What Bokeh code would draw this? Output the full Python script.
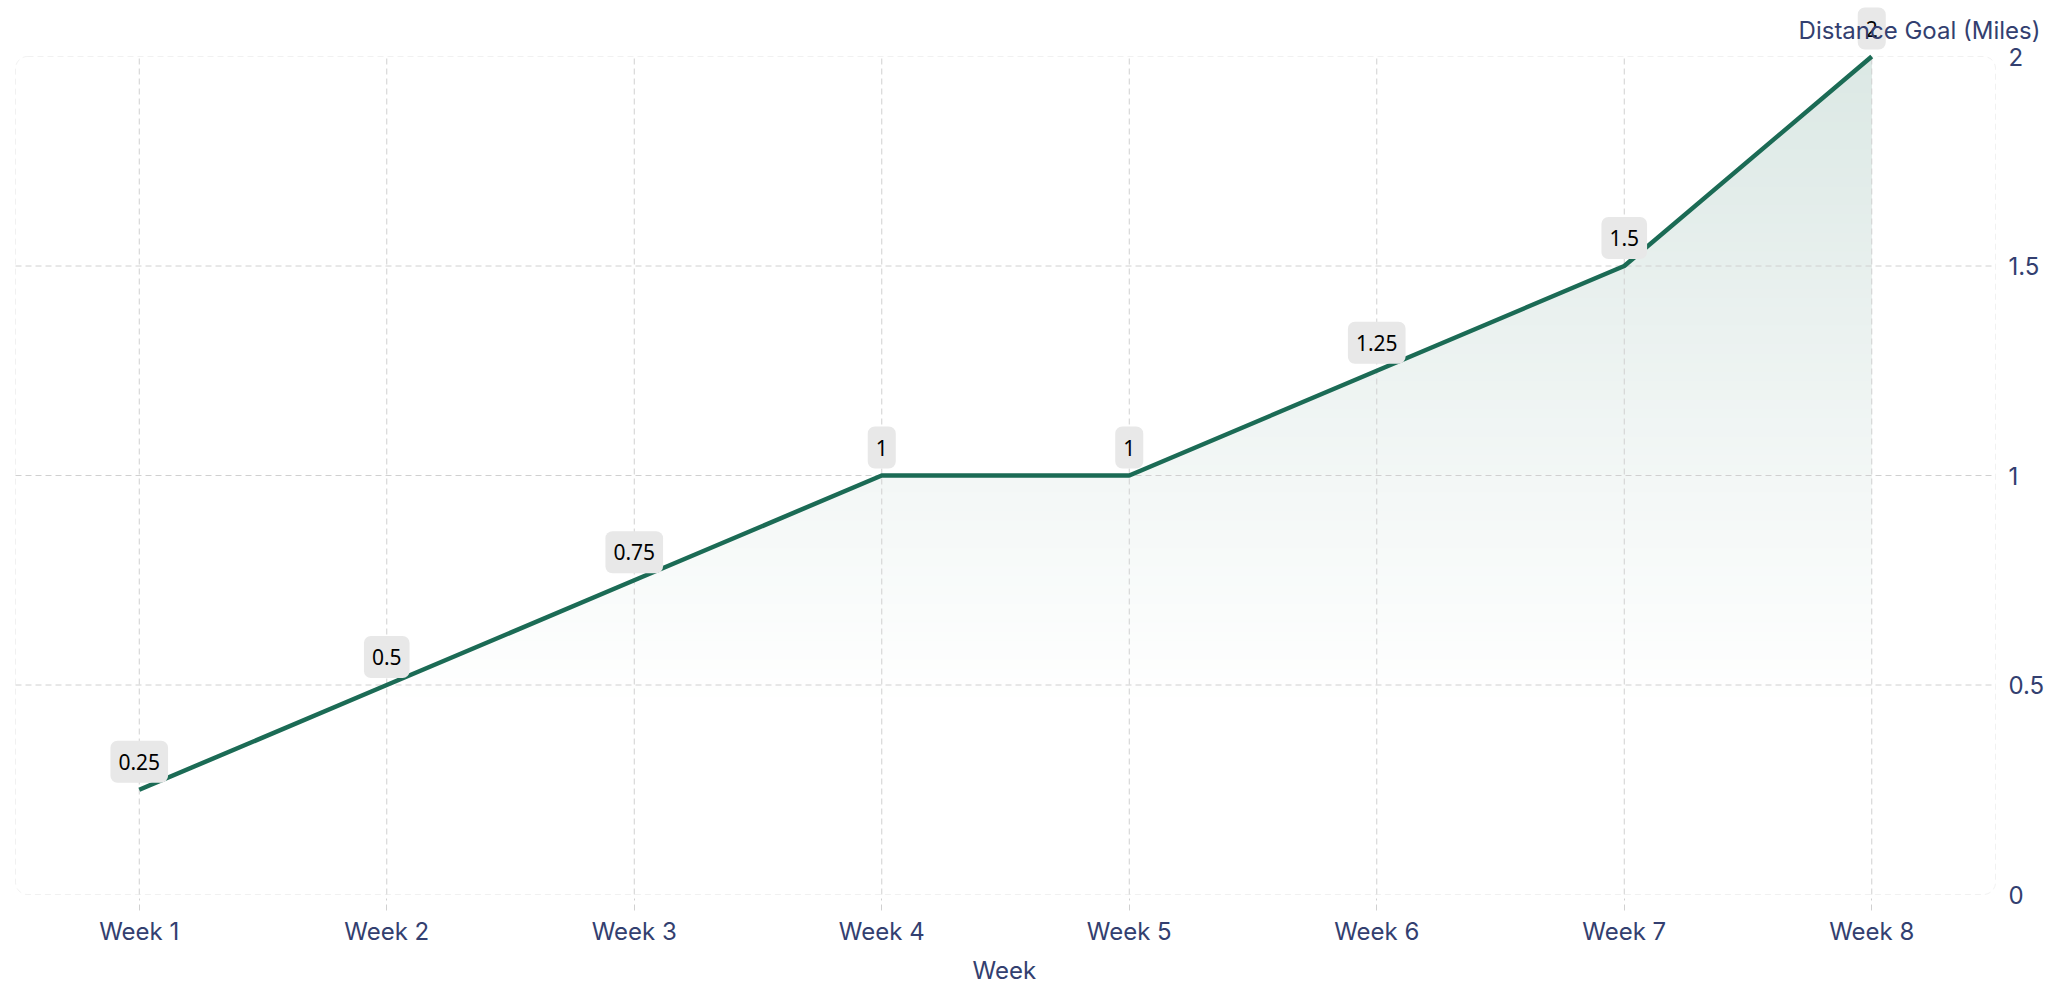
import numpy as np
from bokeh.plotting import figure
from bokeh.models import (FixedTicker, BoxAnnotation, Label, ColumnDataSource, Range1d, Title,
                          CustomJSTickFormatter, NumeralTickFormatter)
from bokeh.core.properties import value
from bokeh.embed import file_html
from bokeh.resources import INLINE

weeks = ["Week 1", "Week 2", "Week 3", "Week 4", "Week 5", "Week 6", "Week 7", "Week 8"]
distance = [0.25, 0.5, 0.75, 1, 1, 1.25, 1.5, 2]
y_ticks = [0, 0.5, 1, 1.5, 2]
y_max_value = 2

NAVY = "#333f70"
GREEN = (27, 107, 85)
GREEN_HEX = "#1b6b55"
GRID = "#d0d0d0"
FONT = "Inter"
FS = "24px"

xs = list(range(1, len(weeks) + 1))
n = len(weeks)

# pixel geometry
PX_X = 247.5          # px per week
PX_Y = 419.0          # px per mile
PAD = 4               # px of frame around the dashed box (left / bottom)
x0 = 0.5 - PAD / PX_X
x1 = 0.5 + 2035 / PX_X
y0 = -PAD / PX_Y
y1 = y_max_value + 56 / PX_Y

p = figure(frame_width=int(round((x1 - x0) * PX_X)), frame_height=int(round((y1 - y0) * PX_Y)),
           x_range=Range1d(x0, x1), y_range=Range1d(y0, y1),
           output_backend="svg", toolbar_location=None, y_axis_location="right",
           min_border_left=11, min_border_top=0, min_border_right=10, min_border_bottom=0)
p.outline_line_color = None
p.background_fill_color = "white"
p.grid.visible = False

# gradient fill under the line: opaque bands stacked bottom-up
xd = np.linspace(1, n, 1401)
yd = np.interp(xd, xs, distance)
g0, g1, amax = 0.45, 2.0, 0.155
levels = np.linspace(g0, g1, 70, endpoint=False)
step = levels[1] - levels[0]
for lv in levels:
    a = amax * np.clip((lv + step / 2 - g0) / (g1 - g0), 0, 1)
    c = tuple(int(round(255 * (1 - a) + ch * a)) for ch in GREEN)
    p.varea(x=xd, y1=np.minimum(yd, lv), y2=yd, fill_color="#%02x%02x%02x" % c, fill_alpha=1)

# grid lines (dashed) inside the rounded box
p.segment(x0=xs, y0=[0] * n, x1=xs, y1=[y_max_value] * n,
          line_color=GRID, line_dash="6 4", line_width=1)
hg = y_ticks[1:-1]
p.segment(x0=[0.5] * len(hg), y0=hg, x1=[n + 0.5] * len(hg), y1=hg,
          line_color=GRID, line_dash="6 4", line_width=1)

# rounded dashed frame
p.add_layout(BoxAnnotation(left=0.5, right=n + 0.5, bottom=0, top=y_max_value,
                           fill_alpha=0, line_color=GRID, line_dash="6 4", line_width=1,
                           border_radius=12, level="underlay"))

# x axis
xa = p.xaxis[0]
xa.ticker = FixedTicker(ticks=xs)
xa.formatter = CustomJSTickFormatter(args=dict(labels=weeks),
                                     code="return labels[Math.round(tick) - 1];")
xa.axis_line_color = None
xa.major_tick_in = 0
xa.major_tick_out = 12
xa.major_tick_line_color = GRID
xa.major_tick_line_dash = "6 4"
xa.minor_tick_line_color = None
xa.major_label_standoff = 6
xa.major_label_text_font = FONT
xa.major_label_text_font_size = FS
xa.major_label_text_color = NAVY

# x axis title, centred under the dashed box
p.add_layout(Title(text="Week", align="left", offset=961, standoff=10,
                   text_font=FONT, text_font_size=FS, text_font_style="normal",
                   text_color=NAVY), "below")

# y axis (right)
ya = p.yaxis[0]
ya.ticker = FixedTicker(ticks=y_ticks)
ya.formatter = NumeralTickFormatter(format="0.[00]")
ya.axis_line_color = None
ya.major_tick_line_color = None
ya.major_tick_out = 0
ya.major_tick_in = 0
ya.minor_tick_line_color = None
ya.major_label_standoff = -42
ya.major_label_text_font = FONT
ya.major_label_text_font_size = FS
ya.major_label_text_color = NAVY

p.add_layout(Label(x=n + 0.5, y=y_max_value, x_offset=45, y_offset=26,
                   text="Distance Goal (Miles)", text_align="right", text_baseline="middle",
                   text_font=FONT, text_font_size=FS, text_color=NAVY))

p.line(xs, distance, line_width=4.5, line_color=GREEN_HEX)

src = ColumnDataSource(dict(x=xs, y=distance, t=[f"{v:g}" for v in distance]))
p.text(x="x", y="y", text="t", source=src, y_offset=-28,
       text_font=value("Noto Sans"), text_font_size=value("21px"), text_color="black",
       text_align="center", text_baseline="middle",
       background_fill_color="#e8e8e8",
       padding=dict(left=8, right=8, top=13, bottom=13), border_radius=7)

open("out.html", "w").write(file_html(p, INLINE))
